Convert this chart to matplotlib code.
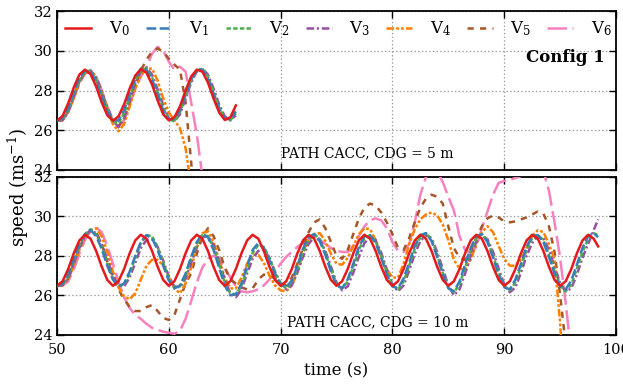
import numpy as np
import matplotlib
matplotlib.use("Agg")
import matplotlib.pyplot as plt

plt.rcParams["font.family"] = ["DejaVu Serif"]
plt.rcParams["mathtext.fontset"] = "dejavuserif"
plt.rcParams["lines.scale_dashes"] = False

nan = np.nan

# time axes (s)
t_top = np.arange(50.0, 66.01, 0.5)
t_bot = np.append(np.arange(50.0, 98.01, 0.5), 98.4)

# ---- Top panel: PATH CACC, CDG = 5 m (speed, m/s) ----
v0_top = [26.48, 26.72, 27.35, 28.15, 28.80, 29.05, 28.82, 28.20, 27.40, 26.75,
          26.48, 26.70, 27.30, 28.10, 28.75, 29.08, 28.90, 28.30, 27.50, 26.80,
          26.50, 26.65, 27.20, 28.00, 28.70, 29.05, 28.95, 28.40, 27.60, 26.90,
          26.52, 26.65, 27.25]
v1_top = [26.47, 26.60, 27.10, 27.90, 28.60, 29.00, 28.95, 28.45, 27.70, 26.95,
          26.50, 26.50, 27.00, 27.85, 28.60, 29.10, 29.05, 28.55, 27.80, 27.00,
          26.55, 26.55, 27.00, 27.80, 28.55, 29.05, 29.05, 28.60, 27.85, 27.10,
          26.60, 26.55, 26.95]
v2_top = [26.47, 26.55, 27.00, 27.80, 28.50, 28.95, 29.00, 28.55, 27.80, 27.05,
          26.45, 26.35, 26.85, 27.70, 28.50, 29.05, 29.10, 28.65, 27.90, 27.10,
          26.55, 26.45, 26.90, 27.70, 28.50, 29.00, 29.10, 28.70, 27.95, 27.15,
          26.60, 26.50, 26.85]
v3_top = [26.47, 26.52, 26.95, 27.70, 28.45, 28.90, 29.00, 28.65, 27.95, 27.15,
          26.50, 26.15, 26.60, 27.50, 28.35, 28.95, 29.15, 28.80, 28.05, 27.25,
          26.60, 26.45, 26.80, 27.60, 28.40, 28.95, 29.10, 28.80, 28.10, 27.30,
          26.70, 26.50, 26.75]
v4_top = [26.47, 26.50, 26.90, 27.60, 28.40, 28.90, 29.00, 28.70, 28.00, 27.10,
          26.30, 25.95, 26.30, 27.20, 28.10, 28.75, 29.10, 29.10, 28.50, 27.60,
          26.90, 26.50, 26.10, 25.10, 23.20, 20.00, nan, nan, nan, nan,
          nan, nan, nan]
v5_top = [26.47, 26.55, 27.00, 27.75, 28.45, 28.90, 28.95, 28.55, 27.80, 27.00,
          26.40, 26.20, 26.60, 27.45, 28.30, 29.00, 29.55, 29.95, 30.12, 29.95,
          29.60, 29.30, 29.05, 27.40, 24.40, 21.00, nan, nan, nan, nan,
          nan, nan, nan]
v6_top = [26.47, 26.50, 26.90, 27.60, 28.35, 28.85, 29.00, 28.70, 28.00, 27.20,
          26.50, 26.20, 26.50, 27.30, 28.10, 28.70, 29.15, 29.85, 30.20, 30.00,
          29.45, 29.05, 29.20, 28.95, 27.40, 25.80, 23.70, 21.00, nan, nan,
          nan, nan, nan]

# ---- Bottom panel: PATH CACC, CDG = 10 m ----
v0_bot = [26.48, 26.71, 27.33, 28.13, 28.78, 29.07, 28.87, 28.25, 27.45, 26.78,
          26.48, 26.71, 27.33, 28.13, 28.78, 29.07, 28.87, 28.25, 27.45, 26.78,
          26.48, 26.71, 27.33, 28.13, 28.78, 29.07, 28.87, 28.25, 27.45, 26.78,
          26.48, 26.71, 27.33, 28.13, 28.78, 29.07, 28.87, 28.25, 27.45, 26.78,
          26.48, 26.71, 27.33, 28.13, 28.78, 29.07, 28.87, 28.25, 27.45, 26.78,
          26.48, 26.71, 27.33, 28.13, 28.78, 29.07, 28.87, 28.25, 27.45, 26.78,
          26.48, 26.71, 27.33, 28.13, 28.78, 29.07, 28.87, 28.25, 27.45, 26.78,
          26.48, 26.71, 27.33, 28.13, 28.78, 29.07, 28.87, 28.25, 27.45, 26.78,
          26.48, 26.71, 27.33, 28.13, 28.78, 29.07, 28.87, 28.25, 27.45, 26.78,
          26.48, 26.71, 27.33, 28.13, 28.78, 29.07, 28.87, 28.48]
v1_bot = [26.47, 26.58, 27.05, 27.85, 28.60, 29.10, 29.30, 29.00, 28.35, 27.50,
          26.80, 26.45, 26.60, 27.20, 28.00, 28.70, 29.05, 28.90, 28.30, 27.50,
          26.75, 26.35, 26.50, 27.10, 27.95, 28.70, 29.10, 28.95, 28.30, 27.40,
          26.50, 26.00, 26.05, 26.60, 27.50, 28.30, 28.65, 28.40, 27.80, 27.05,
          26.55, 26.40, 26.75, 27.50, 28.35, 28.95, 29.10, 28.75, 28.05, 27.20,
          26.50, 26.35, 26.80, 27.60, 28.45, 29.00, 29.05, 28.65, 27.90, 27.05,
          26.45, 26.35, 26.85, 27.65, 28.50, 29.05, 29.15, 28.75, 27.95, 27.05,
          26.35, 26.20, 26.70, 27.55, 28.40, 29.00, 29.10, 28.70, 27.90, 27.05,
          26.40, 26.30, 26.80, 27.60, 28.45, 29.00, 29.05, 28.70, 27.95, 27.10,
          26.45, 26.30, 26.75, 27.55, 28.40, 29.00, 29.15, 28.95]
v2_bot = [26.47, 26.55, 26.95, 27.75, 28.55, 29.10, 29.35, 29.10, 28.45, 27.60,
          26.85, 26.45, 26.55, 27.10, 27.90, 28.65, 29.05, 29.00, 28.45, 27.65,
          26.85, 26.40, 26.45, 27.00, 27.85, 28.60, 29.05, 29.00, 28.40, 27.55,
          26.65, 26.10, 26.05, 26.50, 27.35, 28.15, 28.55, 28.45, 27.90, 27.15,
          26.60, 26.35, 26.65, 27.35, 28.20, 28.85, 29.10, 28.85, 28.15, 27.30,
          26.60, 26.35, 26.70, 27.45, 28.30, 28.90, 29.05, 28.75, 28.00, 27.15,
          26.50, 26.30, 26.70, 27.50, 28.35, 28.95, 29.15, 28.85, 28.05, 27.15,
          26.40, 26.15, 26.55, 27.40, 28.25, 28.90, 29.10, 28.80, 28.00, 27.15,
          26.45, 26.25, 26.65, 27.45, 28.30, 28.90, 29.05, 28.80, 28.05, 27.20,
          26.50, 26.20, 26.55, 27.35, 28.20, 28.85, 29.15, 29.05]
v3_bot = [26.47, 26.52, 26.85, 27.60, 28.40, 29.00, 29.30, 29.15, 28.60, 27.80,
          27.00, 26.50, 26.45, 26.90, 27.65, 28.40, 28.80, 28.85, 28.45, 27.75,
          26.95, 26.45, 26.40, 26.85, 27.65, 28.45, 28.95, 29.00, 28.55, 27.70,
          26.80, 26.10, 25.90, 26.30, 27.10, 27.85, 28.25, 28.30, 27.90, 27.20,
          26.60, 26.30, 26.50, 27.15, 27.95, 28.60, 28.95, 28.85, 28.25, 27.45,
          26.65, 26.25, 26.45, 27.15, 27.95, 28.65, 28.95, 28.80, 28.15, 27.30,
          26.55, 26.20, 26.50, 27.25, 28.10, 28.75, 29.05, 28.90, 28.20, 27.35,
          26.50, 26.00, 26.30, 27.10, 28.00, 28.70, 29.00, 28.85, 28.20, 27.35,
          26.55, 26.15, 26.40, 27.15, 28.00, 28.65, 29.00, 28.90, 28.30, 27.45,
          26.60, 26.20, 26.35, 27.05, 27.90, 28.60, 29.30, 29.85]
v4_bot = [26.47, 26.50, 26.80, 27.50, 28.30, 28.95, 29.30, 29.40, 29.00, 28.20,
          27.20, 26.40, 25.95, 25.80, 26.10, 26.80, 27.50, 27.80, 27.80, 27.50,
          27.00, 26.35, 26.10, 26.60, 27.40, 28.40, 29.15, 29.25, 28.70, 27.80,
          26.90, 26.35, 26.35, 26.90, 27.60, 28.05, 28.05, 27.65, 27.00, 26.50,
          26.25, 26.20, 26.50, 27.20, 28.10, 28.85, 29.10, 29.15, 28.75, 28.10,
          27.60, 27.55, 27.90, 28.50, 29.10, 29.40, 29.35, 28.80, 28.00, 27.30,
          26.90, 26.90, 27.60, 28.60, 29.35, 29.85, 30.10, 30.20, 30.05, 29.60,
          28.80, 27.80, 27.35, 27.30, 27.80, 28.60, 29.20, 29.50, 29.20, 28.50,
          27.85, 27.50, 27.50, 27.80, 28.40, 29.00, 29.30, 29.20, 28.60, 27.80,
          24.60, 20.00, nan, nan, nan, nan, nan, nan]
v5_bot = [26.47, 26.52, 26.85, 27.60, 28.40, 29.00, 29.30, 29.20, 28.60, 27.70,
          26.85, 26.30, 25.80, 25.40, 25.20, 25.20, 25.40, 25.50, 25.20, 24.85,
          24.75, 25.00, 25.80, 26.60, 27.10, 28.10, 28.95, 29.40, 29.00, 28.30,
          27.40, 26.80, 26.60, 26.40, 26.30, 26.35, 26.80, 27.05, 27.00, 26.85,
          26.60, 26.50, 26.90, 27.60, 28.40, 29.20, 29.70, 29.85, 29.40, 28.70,
          28.00, 27.85, 28.30, 29.10, 29.90, 30.45, 30.65, 30.55, 30.20, 29.70,
          29.10, 28.40, 28.30, 28.90, 29.70, 30.45, 30.90, 31.10, 31.00, 30.65,
          29.50, 28.40, 27.90, 27.80, 28.20, 28.90, 29.50, 29.90, 30.05, 29.95,
          29.75, 29.70, 29.75, 29.85, 29.95, 30.10, 30.25, 30.15, 29.50, 28.20,
          26.00, 23.50, nan, nan, nan, nan, nan, nan]
v6_bot = [26.47, 26.50, 26.70, 27.30, 28.10, 28.80, 29.25, 29.45, 29.20, 28.50,
          27.60, 26.70, 25.90, 25.35, 25.00, 24.80, 24.55, 24.35, 24.25, 24.15,
          24.10, 24.05, 24.20, 24.80, 25.70, 26.65, 27.40, 27.85, 28.00, 27.85,
          27.40, 26.90, 26.45, 26.20, 26.15, 26.20, 26.30, 26.50, 26.80, 27.20,
          27.60, 27.95, 28.20, 28.45, 28.65, 28.85, 28.90, 28.80, 28.60, 28.40,
          28.25, 28.20, 28.20, 28.50, 29.00, 29.50, 29.80, 29.90, 29.80, 29.40,
          28.70, 28.25, 28.20, 28.60, 29.70, 31.10, 32.00, 32.40, 32.30, 31.75,
          31.00, 30.30, 29.00, 28.30, 28.15, 28.45, 29.40, 30.25, 31.10, 31.70,
          31.80, 31.85, 31.95, 32.05, 32.20, 32.30, 32.35, 32.30, 31.30, 29.70,
          27.90, 25.60, 23.00, nan, nan, nan, nan, nan]

labels = ["V$_0$", "V$_1$", "V$_2$", "V$_3$", "V$_4$", "V$_5$", "V$_6$"]
colors = ["#e41a1c", "#377eb8", "#4daf4a", "#984ea3", "#ff7f00", "#a65628", "#f781bf"]
dashes = [None, (7, 2.5), (3.2, 1.6), (5.5, 2, 1.5, 2),
          (5.5, 1.5, 2, 1.5, 2, 1.5), (4.5, 4.5), (14, 4)]

top_series = [v0_top, v1_top, v2_top, v3_top, v4_top, v5_top, v6_top]
bot_series = [v0_bot, v1_bot, v2_bot, v3_bot, v4_bot, v5_bot, v6_bot]

fig = plt.figure(figsize=(6.23, 3.84), dpi=100)
ax_top = fig.add_axes([0.0915, 0.5573, 0.8973, 0.414])
ax_bot = fig.add_axes([0.0915, 0.1284, 0.8973, 0.4107])


def draw(ax, t, series):
    handles = []
    # draw in reverse so V0 ends up on top
    for i in reversed(range(len(series))):
        kw = dict(color=colors[i], lw=1.8, label=labels[i], zorder=3 + (7 - i) * 0.1)
        if dashes[i] is not None:
            kw["dashes"] = dashes[i]
        (ln,) = ax.plot(t, np.array(series[i], dtype=float), **kw)
        handles.append(ln)
    return handles[::-1]


def style(ax):
    ax.set_xlim(50, 100)
    ax.set_ylim(24, 32)
    ax.set_xticks(np.arange(50, 101, 10))
    ax.set_yticks(np.arange(24, 33, 2))
    ax.tick_params(direction="in", top=True, right=True, length=5, width=1,
                   labelsize=10.5)
    ax.tick_params(axis="x", pad=6)
    ax.grid(True, linestyle=":", color="#9a9a9a", lw=0.9)
    for sp in ax.spines.values():
        sp.set_linewidth(1.3)


handles = draw(ax_top, t_top, top_series)
draw(ax_bot, t_bot, bot_series)
style(ax_top)
style(ax_bot)
ax_top.tick_params(labelbottom=False)

ax_top.legend(handles, labels, ncol=7, loc="upper left",
              bbox_to_anchor=(0.0, 1.0), frameon=False, fontsize=12,
              handlelength=1.55, handletextpad=1.05, columnspacing=0.98,
              borderpad=0.1, borderaxespad=0.4)

ax_top.text(0.98, 0.71, "Config 1", transform=ax_top.transAxes,
            ha="right", va="center", fontsize=12, fontweight="bold")
ax_top.text(0.555, 0.107, "PATH CACC, CDG = 5 m", transform=ax_top.transAxes,
            ha="center", va="center", fontsize=10)
ax_bot.text(0.573, 0.08, "PATH CACC, CDG = 10 m", transform=ax_bot.transAxes,
            ha="center", va="center", fontsize=10)

ax_bot.set_xlabel("time (s)", fontsize=12, labelpad=4)
fig.text(0.03, 0.513, "speed (ms$^{-1}$)", rotation=90, ha="center",
         va="center", fontsize=13)

fig.savefig("out.png", dpi=100)
